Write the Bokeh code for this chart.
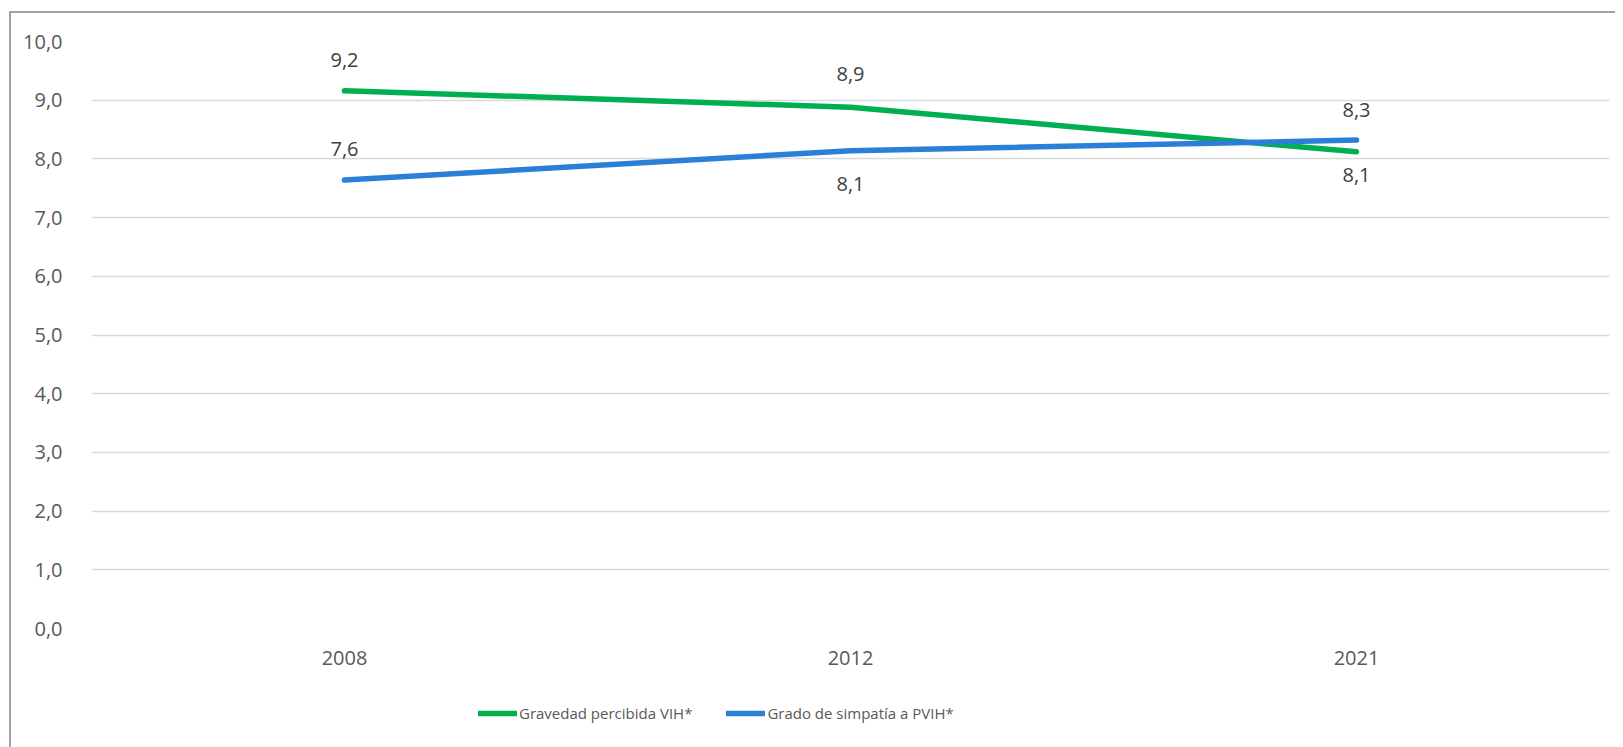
from bokeh.plotting import figure
from bokeh.layouts import column
from bokeh.models import (ColumnDataSource, Range1d, FixedTicker, Legend, LegendItem)
from bokeh.core.properties import value
from bokeh.embed import file_html
from bokeh.resources import INLINE

# ---- data ----
years = ["2008", "2012", "2021"]
gravedad = [9.16, 8.88, 8.12]
simpatia = [7.64, 8.14, 8.32]
series_names = ["Gravedad percibida VIH*", "Grado de simpatía a PVIH*"]
y_ticks = [0, 1, 2, 3, 4, 5, 6, 7, 8, 9, 10]
y_tick_labels = ["0,0", "1,0", "2,0", "3,0", "4,0", "5,0", "6,0", "7,0", "8,0", "9,0", "10,0"]

# ---- styles ----
GREEN = "#00B050"
BLUE = "#2C7FD8"
FONT = "Open Sans"
grav_label_offsets = [-31, -33, 23]   # screen px (negative = above)
simp_label_offsets = [-31, 33, -30]

W, H1, H2 = 1604, 670, 64
p = figure(x_range=years, y_range=Range1d(0, 10), width=W, height=H1,
           output_backend="svg", toolbar_location=None,
           min_border_left=80, min_border_right=6, min_border_top=28, min_border_bottom=55)
p.outline_line_color = None
p.background_fill_color = "white"
p.border_fill_color = "white"

p.xgrid.grid_line_color = None
p.ygrid.grid_line_color = "#D9D9D9"
p.ygrid.grid_line_width = 1.5

p.yaxis.ticker = FixedTicker(ticks=y_ticks)
p.yaxis.major_label_overrides = {t: l for t, l in zip(y_ticks, y_tick_labels)}
for ax in (p.xaxis, p.yaxis):
    ax.axis_line_color = None
    ax.major_tick_line_color = None
    ax.minor_tick_line_color = None
    ax.major_label_text_font = FONT
    ax.major_label_text_font_size = "20px"
    ax.major_label_text_color = "#595959"
p.yaxis.major_label_standoff = 23
p.xaxis.major_label_standoff = 16

r1 = p.line(years, gravedad, line_width=5.5, color=GREEN, line_cap="round", line_join="round")
r2 = p.line(years, simpatia, line_width=5.5, color=BLUE, line_cap="round", line_join="round")

def fmt(v):
    return f"{v:.1f}".replace(".", ",")

lab = ColumnDataSource(dict(
    x=years + years,
    y=gravedad + simpatia,
    t=[fmt(v) for v in gravedad + simpatia],
    off=grav_label_offsets + simp_label_offsets,
))
p.text(x="x", y="y", text="t", y_offset="off", source=lab,
       text_font=value(FONT), text_font_size="20px", text_color="#404040",
       text_align="center", text_baseline="middle")

# ---- legend strip (separate figure so nothing gets clipped) ----
lg = figure(width=W, height=H2, x_range=Range1d(0, 1), y_range=Range1d(0, 1),
            output_backend="svg", toolbar_location=None,
            min_border_left=80, min_border_right=6, min_border_top=0, min_border_bottom=0)
lg.axis.visible = False
lg.grid.visible = False
lg.outline_line_color = None
lg.border_fill_color = "white"
# legend proxies: drawn outside the visible range of the strip
g1 = lg.line(x=[0, 1], y=[-5, -5], line_width=5.5, color=GREEN, line_cap="round")
g2 = lg.line(x=[0, 1], y=[-5, -5], line_width=5.5, color=BLUE, line_cap="round")
legend = Legend(items=[LegendItem(label=series_names[0], renderers=[g1]),
                       LegendItem(label=series_names[1], renderers=[g2])],
                orientation="horizontal", location=(387, 24),
                label_text_font=FONT, label_text_font_size="15px", label_text_color="#595959",
                glyph_width=39, glyph_height=20, label_height=20, label_standoff=2,
                spacing=34, padding=0, margin=0,
                border_line_color=None, background_fill_alpha=0)
lg.add_layout(legend, "center")

layout = column(p, lg, spacing=0)
layout.styles = {"border-left": "2px solid #A89CB1", "border-top": "2px solid #A89CB1",
                 "margin-left": "9px", "margin-top": "11px"}

open("out.html", "w").write(file_html(layout, INLINE))
